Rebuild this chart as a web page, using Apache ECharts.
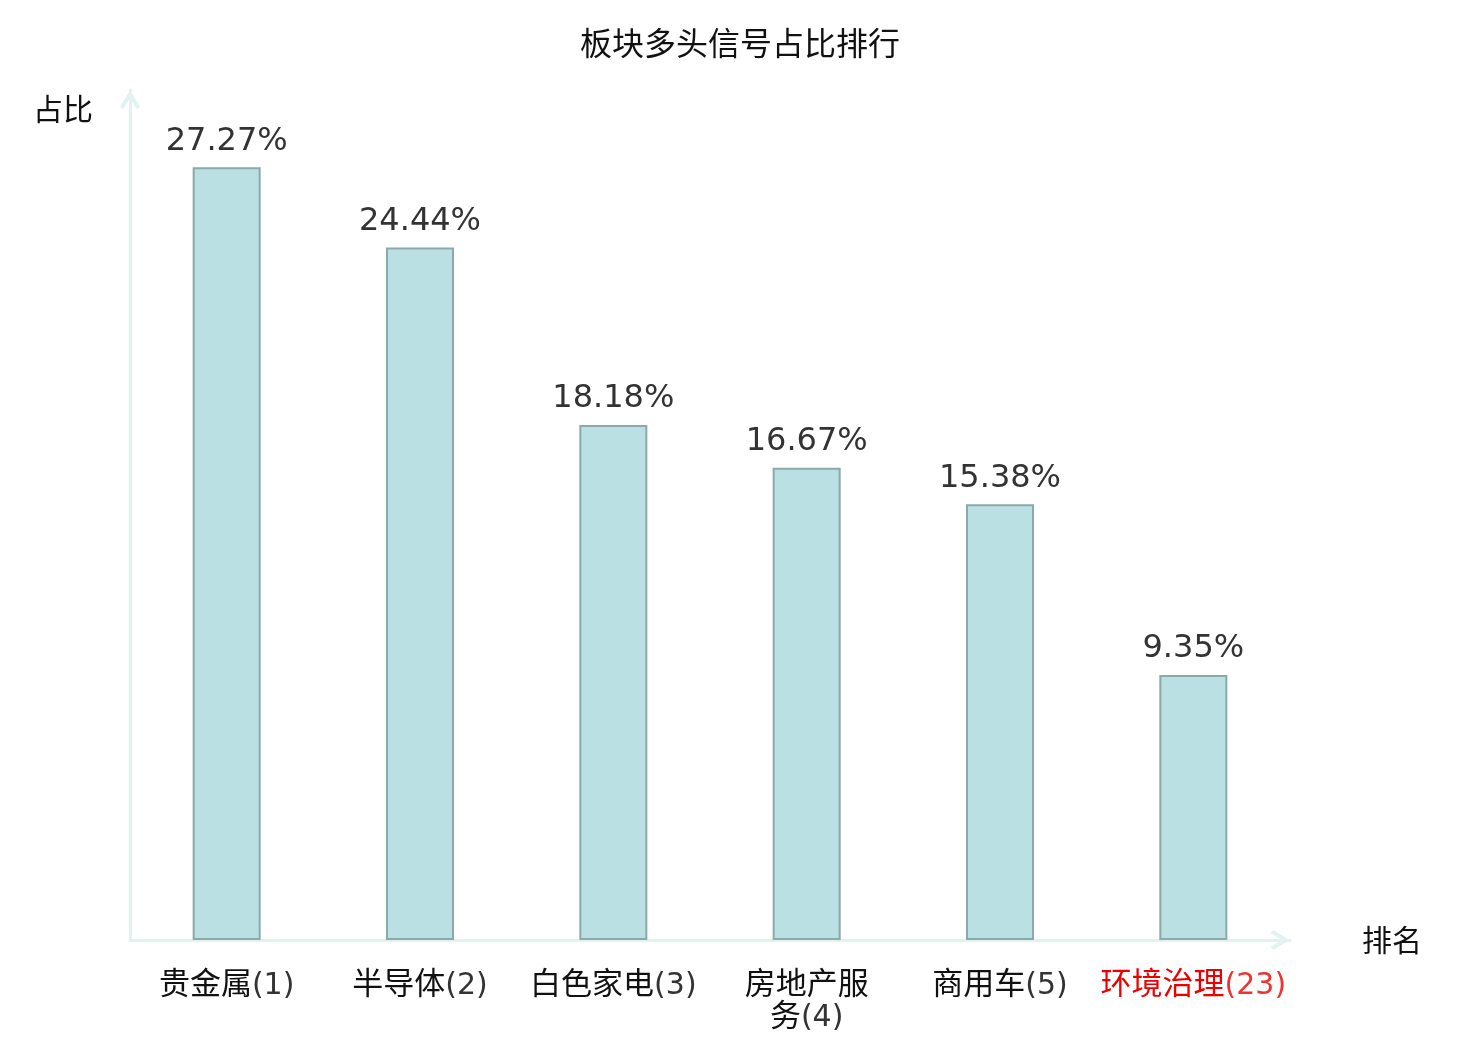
<!DOCTYPE html>
<html>
<head>
    <meta charset="utf-8">
    <title>板块多头信号占比排行</title>
    <script src="https://cdn.jsdelivr.net/npm/echarts@6/dist/echarts.min.js"></script>
    <style>
        html, body { margin: 0; padding: 0; background: #fff; }
        #chart { width: 1480px; height: 1040px; }
    </style>
</head>
<body>
    <div id="chart"></div>
<script type="text/javascript">
    // 板块名称、排名、占比
    var sectors = ['贵金属', '半导体', '白色家电', '房地产服务', '商用车', '环境治理'];
    var ranks = [1, 2, 3, 4, 5, 23];
    var ratios = [27.27, 24.44, 18.18, 16.67, 15.38, 9.35];

    var CJK = '"Noto Sans CJK SC", sans-serif';
    var LATIN = '"DejaVu Sans", sans-serif';

    // 名称超过4个字就换行
    function wrapName(name, rank) {
        var s = name + '(' + rank + ')';
        if (name.length <= 4) return s;
        var out = [];
        var i = 0;
        while (name.length - i > 4) {
            out.push(s.slice(i, i + 4));
            i += 4;
        }
        out.push(s.slice(i));
        return out.join('\n');
    }

    var categories = sectors.map(function (n, i) { return wrapName(n, ranks[i]); });

    // 空心箭头（尖端在轴末端）
    var chevron = 'path://M10,0 L20,16 L17,19 L10,7.5 L3,19 L0,16 Z';

    var myChart = echarts.init(document.getElementById('chart'));
    myChart.setOption({
        animation: false,
        title: {
            text: '板块多头信号占比排行',
            left: 'center',
            top: 22,
            textStyle: { fontFamily: CJK, fontSize: 32, fontWeight: 'normal', color: '#111' }
        },
        grid: { left: 130, right: 190, top: 90, bottom: 100 },
        xAxis: {
            type: 'category',
            data: categories,
            name: '排名',
            nameGap: 72,
            nameTextStyle: { fontFamily: CJK, fontSize: 30, color: '#111' },
            axisLine: {
                symbol: ['none', chevron],
                symbolSize: [20, 20],
                symbolOffset: [0, -10],
                lineStyle: { color: '#e0f3f1', width: 3 }
            },
            axisTick: { show: false },
            axisLabel: {
                interval: 0,
                margin: 26,
                lineHeight: 32,
                formatter: function (v, i) {
                    var m = v.match(/^([\s\S]*?)(\(\d+\))$/);
                    var k = i === sectors.length - 1 ? 'r' : '';
                    return '{a' + k + '|' + m[1] + '}{b' + k + '|' + m[2] + '}';
                },
                rich: {
                    a: { fontFamily: CJK, fontSize: 31, lineHeight: 32, color: '#111' },
                    b: { fontFamily: LATIN, fontSize: 30, lineHeight: 32, color: '#333', padding: [8, 0, 0, 0] },
                    ar: { fontFamily: CJK, fontSize: 31, lineHeight: 32, color: '#e00' },
                    br: { fontFamily: LATIN, fontSize: 30, lineHeight: 32, color: '#e33', padding: [8, 0, 0, 0] }
                }
            }
        },
        yAxis: {
            type: 'value',
            min: 0,
            max: 30,
            name: '占比',
            nameGap: 0,
            nameTextStyle: { fontFamily: CJK, fontSize: 30, color: '#111', padding: [0, 134, -34, 0] },
            axisLine: {
                show: true,
                symbol: ['none', chevron],
                symbolSize: [20, 20],
                symbolOffset: [0, -10],
                lineStyle: { color: '#e0f3f1', width: 3 }
            },
            axisTick: { show: false },
            axisLabel: { show: false },
            splitLine: { show: false }
        },
        series: [{
            type: 'bar',
            data: ratios,
            barWidth: 68,
            itemStyle: { color: '#bbe0e3', borderColor: '#8aa9a9', borderWidth: 2 },
            label: {
                show: true,
                position: 'top',
                distance: 10,
                fontFamily: LATIN,
                fontSize: 32,
                color: '#333',
                formatter: function (p) { return p.value.toFixed(2) + '%'; }
            }
        }]
    });
</script>
</body>
</html>
